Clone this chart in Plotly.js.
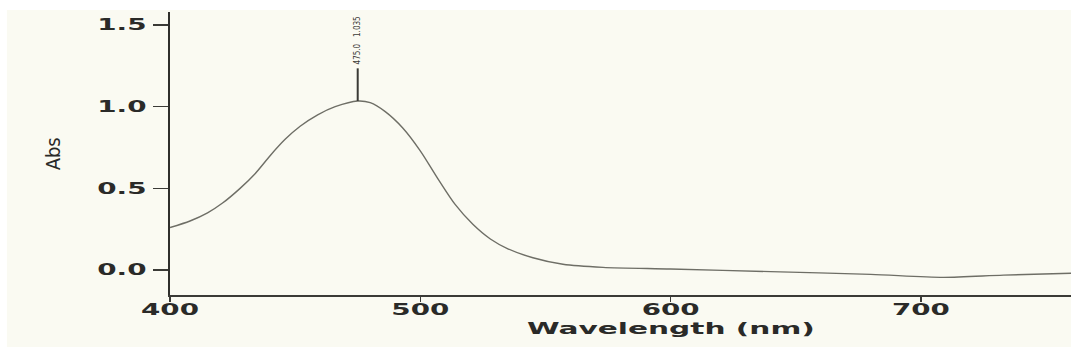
<!DOCTYPE html>
<html>
<head>
<meta charset="utf-8">
<script src="https://cdn.plot.ly/plotly-3.0.1.min.js"></script>
<style>
  html, body { margin: 0; padding: 0; background: #ffffff; }
  #chart { width: 1071px; height: 357px; }
</style>
</head>
<body>
<div id="chart"></div>
<script>
// Absorbance spectrum
const wavelengthNm = [400, 408, 415, 421, 428, 434, 440, 446, 452, 459, 466, 475, 480, 486, 493, 500, 507, 514, 521, 528, 535, 545, 557, 573, 600, 640, 680, 709, 733, 760];
const absorbance   = [0.26, 0.30, 0.35, 0.41, 0.50, 0.59, 0.70, 0.80, 0.88, 0.95, 1.00, 1.035, 1.025, 0.97, 0.87, 0.73, 0.56, 0.40, 0.28, 0.19, 0.13, 0.075, 0.035, 0.016, 0.006, -0.01, -0.027, -0.045, -0.031, -0.02];

// Peak pick label
const peakWl = 475.0;
const peakAbs = 1.035;
const peakMarkerLen = 0.2;

// Tick labels
const xTickVals = [400, 500, 600, 700];
const xTickText = ['400', '500', '600', '700'];
const yTickVals = [0, 0.5, 1.0, 1.5];
const yTickText = ['0.0', '0.5', '1.0', '1.5'];

const ink = '#2a2a28';
const tickFont = { family: 'DejaVu Sans, sans-serif', size: 15, color: ink, weight: 'bold' };

const traces = [
  {
    x: wavelengthNm, y: absorbance, type: 'scatter', mode: 'lines',
    line: { color: '#6e6e66', width: 1.4, shape: 'spline', smoothing: 0.8 },
    hoverinfo: 'x+y', showlegend: false
  },
  {
    x: [peakWl, peakWl], y: [peakAbs, peakAbs + peakMarkerLen], type: 'scatter', mode: 'lines',
    line: { color: '#3a3a36', width: 2 }, hoverinfo: 'skip', showlegend: false
  }
];

const layout = {
  width: 1071, height: 357,
  margin: { l: 170, r: 0, t: 12, b: 62, pad: 0 },
  paper_bgcolor: '#ffffff',
  plot_bgcolor: 'rgba(0,0,0,0)',
  showlegend: false,
  xaxis: {
    range: [400, 760], showgrid: false, zeroline: false,
    showline: true, linecolor: '#3a3a36', linewidth: 2,
    tickmode: 'array', tickvals: xTickVals, ticktext: xTickText,
    ticks: 'outside', ticklen: 5, tickwidth: 1.5, tickcolor: '#3a3a36',
    tickfont: tickFont, ticklabelstandoff: -5
  },
  yaxis: {
    range: [-0.153, 1.58], showgrid: false, zeroline: false,
    showline: true, linecolor: '#2f2f2c', linewidth: 2.5,
    tickmode: 'array', tickvals: yTickVals, ticktext: yTickText,
    ticks: 'outside', ticklen: 15, tickwidth: 1.5, tickcolor: '#3a3a36',
    tickfont: tickFont, ticklabelstandoff: 3
  },
  shapes: [
    { type: 'rect', xref: 'paper', yref: 'paper', x0: -0.181, x1: 1.0, y0: -0.184, y1: 1.007,
      fillcolor: '#fafaf2', line: { width: 0 }, layer: 'below' }
  ],
  annotations: [
    { text: 'Wavelength (nm)', xref: 'x', yref: 'paper', x: 600, y: -0.118,
      xanchor: 'center', yanchor: 'middle', showarrow: false,
      font: { family: 'DejaVu Sans, sans-serif', size: 16, color: ink, weight: 'bold' } },
    { text: 'Abs', xref: 'paper', yref: 'paper', x: -0.13, y: 0.5, textangle: -90,
      xanchor: 'center', yanchor: 'middle', showarrow: false,
      font: { family: 'Liberation Sans Narrow, DejaVu Sans Condensed, sans-serif', size: 20, color: '#2a2a28' } },
    { text: peakWl.toFixed(1) + '   ' + peakAbs.toFixed(3), xref: 'x', yref: 'y',
      x: peakWl, y: peakAbs + peakMarkerLen + 0.01, textangle: -90,
      xanchor: 'center', yanchor: 'bottom', showarrow: false,
      font: { family: 'Liberation Sans Narrow, DejaVu Sans Condensed, sans-serif', size: 8, color: '#3a3a36' } }
  ]
};

Plotly.newPlot('chart', traces, layout, { displayModeBar: false, staticPlot: true }).then(function (gd) {
  // Emulate the very wide (extended) lettering of the original print
  const stretch = function (el, factor) {
    const len = el.getComputedTextLength();
    if (len > 0) {
      el.setAttribute('textLength', (len * factor).toFixed(1));
      el.setAttribute('lengthAdjust', 'spacingAndGlyphs');
    }
  };
  gd.querySelectorAll('.xtick text, .ytick text').forEach(function (el) { stretch(el, 1.85); });
  gd.querySelectorAll('.annotation-text').forEach(function (el) {
    if (el.textContent === 'Wavelength (nm)') stretch(el, 1.85);
  });
});
</script>
</body>
</html>
